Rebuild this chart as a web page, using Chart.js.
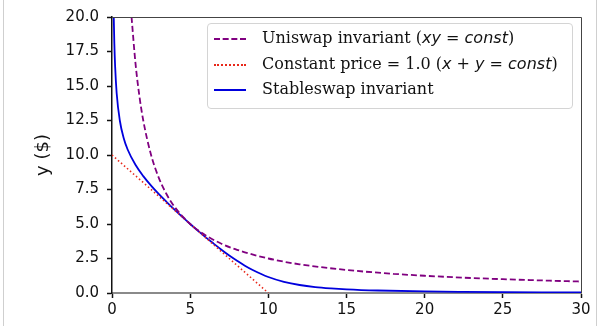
<!DOCTYPE html>
<html>
<head>
<meta charset="utf-8">
<script src="https://cdn.jsdelivr.net/npm/chart.js@4"></script>
<style>
  html, body { margin: 0; padding: 0; background: #fff; }
  #wrap { position: relative; width: 600px; height: 326px; overflow: hidden; }
  #frame { position: absolute; left: 3px; top: -2px; width: 592px; height: 340px;
           border-left: 1px solid #cfcfcf; border-right: 1px solid #cfcfcf; pointer-events: none; }
  #legend { position: absolute; left: 207px; top: 23px; width: 364px; height: 84px;
            border: 1px solid #d4d4d4; border-radius: 4px; background: rgba(255,255,255,0.85);
            font-family: "DejaVu Serif", serif; font-size: 16px; color: #111; }
  #legend .row { position: absolute; left: 0; height: 20px; line-height: 20px; white-space: nowrap; }
  #legend .sample { position: absolute; left: 6px; top: 10px; width: 32px; height: 0; }
  #legend .txt { position: absolute; left: 54px; top: 0; }
  #legend i { font-family: "DejaVu Sans", sans-serif; font-style: oblique; }
</style>
</head>
<body>
<div id="wrap">
  <canvas id="chart" width="600" height="326"></canvas>
  <div id="legend">
    <div class="row" style="top:4px"><span class="sample" style="border-top:2px dashed #800080"></span><span class="txt">Uniswap invariant (<i>xy</i> = <i>const</i>)</span></div>
    <div class="row" style="top:30px"><span class="sample" style="border-top:2px dotted #e8281a"></span><span class="txt">Constant price = 1.0 (<i>x</i> + <i>y</i> = <i>const</i>)</span></div>
    <div class="row" style="top:55px"><span class="sample" style="border-top:2px solid #0000dd"></span><span class="txt">Stableswap invariant</span></div>
  </div>
  <div id="frame"></div>
</div>
<script>
// values
const uniX = [1.25, 1.5, 1.75, 2, 2.5, 3, 3.5, 4, 5, 6, 7, 8, 10, 12, 15, 18, 20, 22.5, 25, 27.5, 30];
const uniY = [20, 16.67, 14.29, 12.5, 10, 8.33, 7.14, 6.25, 5, 4.17, 3.57, 3.13, 2.5, 2.08, 1.67, 1.39, 1.25, 1.11, 1, 0.91, 0.83];

const priceX = [0, 10];
const priceY = [10, 0];

const stableX = [0.113, 0.15, 0.2, 0.3, 0.5, 0.75, 1, 1.5, 2, 2.5, 3, 3.5, 4, 4.5, 5, 5.5, 6, 6.5, 7, 7.5, 8, 8.5, 9, 10, 11, 12, 13, 14, 15, 17, 20, 22.5, 25, 27.5, 30];
const stableY = [19.97, 18.07, 16.42, 14.46, 12.5, 11.22, 10.4, 9.29, 8.47, 7.78, 7.16, 6.59, 6.04, 5.51, 5, 4.51, 4.03, 3.58, 3.14, 2.72, 2.34, 1.98, 1.67, 1.16, 0.81, 0.58, 0.43, 0.335, 0.266, 0.18, 0.112, 0.082, 0.062, 0.049, 0.04];

const xTicks = [0, 5, 10, 15, 20, 25, 30];
const yTicks = [0, 2.5, 5, 7.5, 10, 12.5, 15, 17.5, 20];

function pts(xs, ys) {
  return xs.map((x, i) => ({ x: x, y: ys[i] }));
}

// top and right spines
const frameBox = {
  id: 'frameBox',
  afterDraw(chart) {
    const a = chart.chartArea;
    const ctx = chart.ctx;
    ctx.save();
    ctx.strokeStyle = '#444';
    ctx.lineWidth = 1;
    ctx.beginPath();
    ctx.moveTo(a.left, a.top + 0.5);
    ctx.lineTo(a.right + 0.5, a.top + 0.5);
    ctx.lineTo(a.right + 0.5, a.bottom);
    ctx.stroke();
    ctx.restore();
  }
};

const tickFont = { family: "DejaVu Sans", size: 15 };

new Chart(document.getElementById('chart').getContext('2d'), {
  type: 'scatter',
  data: {
    datasets: [
      {
        label: 'Uniswap invariant (xy = const)',
        data: pts(uniX, uniY),
        showLine: true,
        borderColor: '#800080',
        borderWidth: 1.8,
        borderDash: [6, 3],
        pointRadius: 0,
        cubicInterpolationMode: 'monotone'
      },
      {
        label: 'Constant price = 1.0 (x + y = const)',
        data: pts(priceX, priceY),
        showLine: true,
        borderColor: '#e8281a',
        borderWidth: 1.6,
        borderDash: [1.5, 2.5],
        pointRadius: 0
      },
      {
        label: 'Stableswap invariant',
        data: pts(stableX, stableY),
        showLine: true,
        borderColor: '#0000dd',
        borderWidth: 1.8,
        pointRadius: 0,
        cubicInterpolationMode: 'monotone'
      }
    ]
  },
  options: {
    responsive: false,
    animation: false,
    layout: { padding: { top: 15, right: 19, left: 0, bottom: 0 } },
    plugins: { legend: { display: false }, tooltip: { enabled: false } },
    scales: {
      x: {
        type: 'linear',
        min: 0,
        max: 30,
        afterBuildTicks: s => { s.ticks = xTicks.map(v => ({ value: v })); },
        afterFit: s => { s.height = 33; },
        grid: { drawOnChartArea: false, tickLength: 5, tickColor: '#111', tickWidth: 1.5 },
        border: { color: '#8a8a8a', width: 2 },
        ticks: { color: '#111', font: tickFont, padding: 3, maxRotation: 0 }
      },
      y: {
        type: 'linear',
        min: 0,
        max: 20,
        afterBuildTicks: s => { s.ticks = yTicks.map(v => ({ value: v })); },
        afterFit: s => { s.width = 112; },
        grid: { drawOnChartArea: false, tickLength: 5, tickColor: '#111', tickWidth: 1.5 },
        border: { color: '#111', width: 1.5 },
        ticks: { color: '#111', font: tickFont, padding: 8, callback: v => v.toFixed(1) },
        title: {
          display: true,
          text: 'y ($)',
          color: '#111',
          font: { family: "DejaVu Sans", size: 18 },
          padding: { top: 33, bottom: 0 }
        }
      }
    }
  },
  plugins: [frameBox]
});
</script>
</body>
</html>
